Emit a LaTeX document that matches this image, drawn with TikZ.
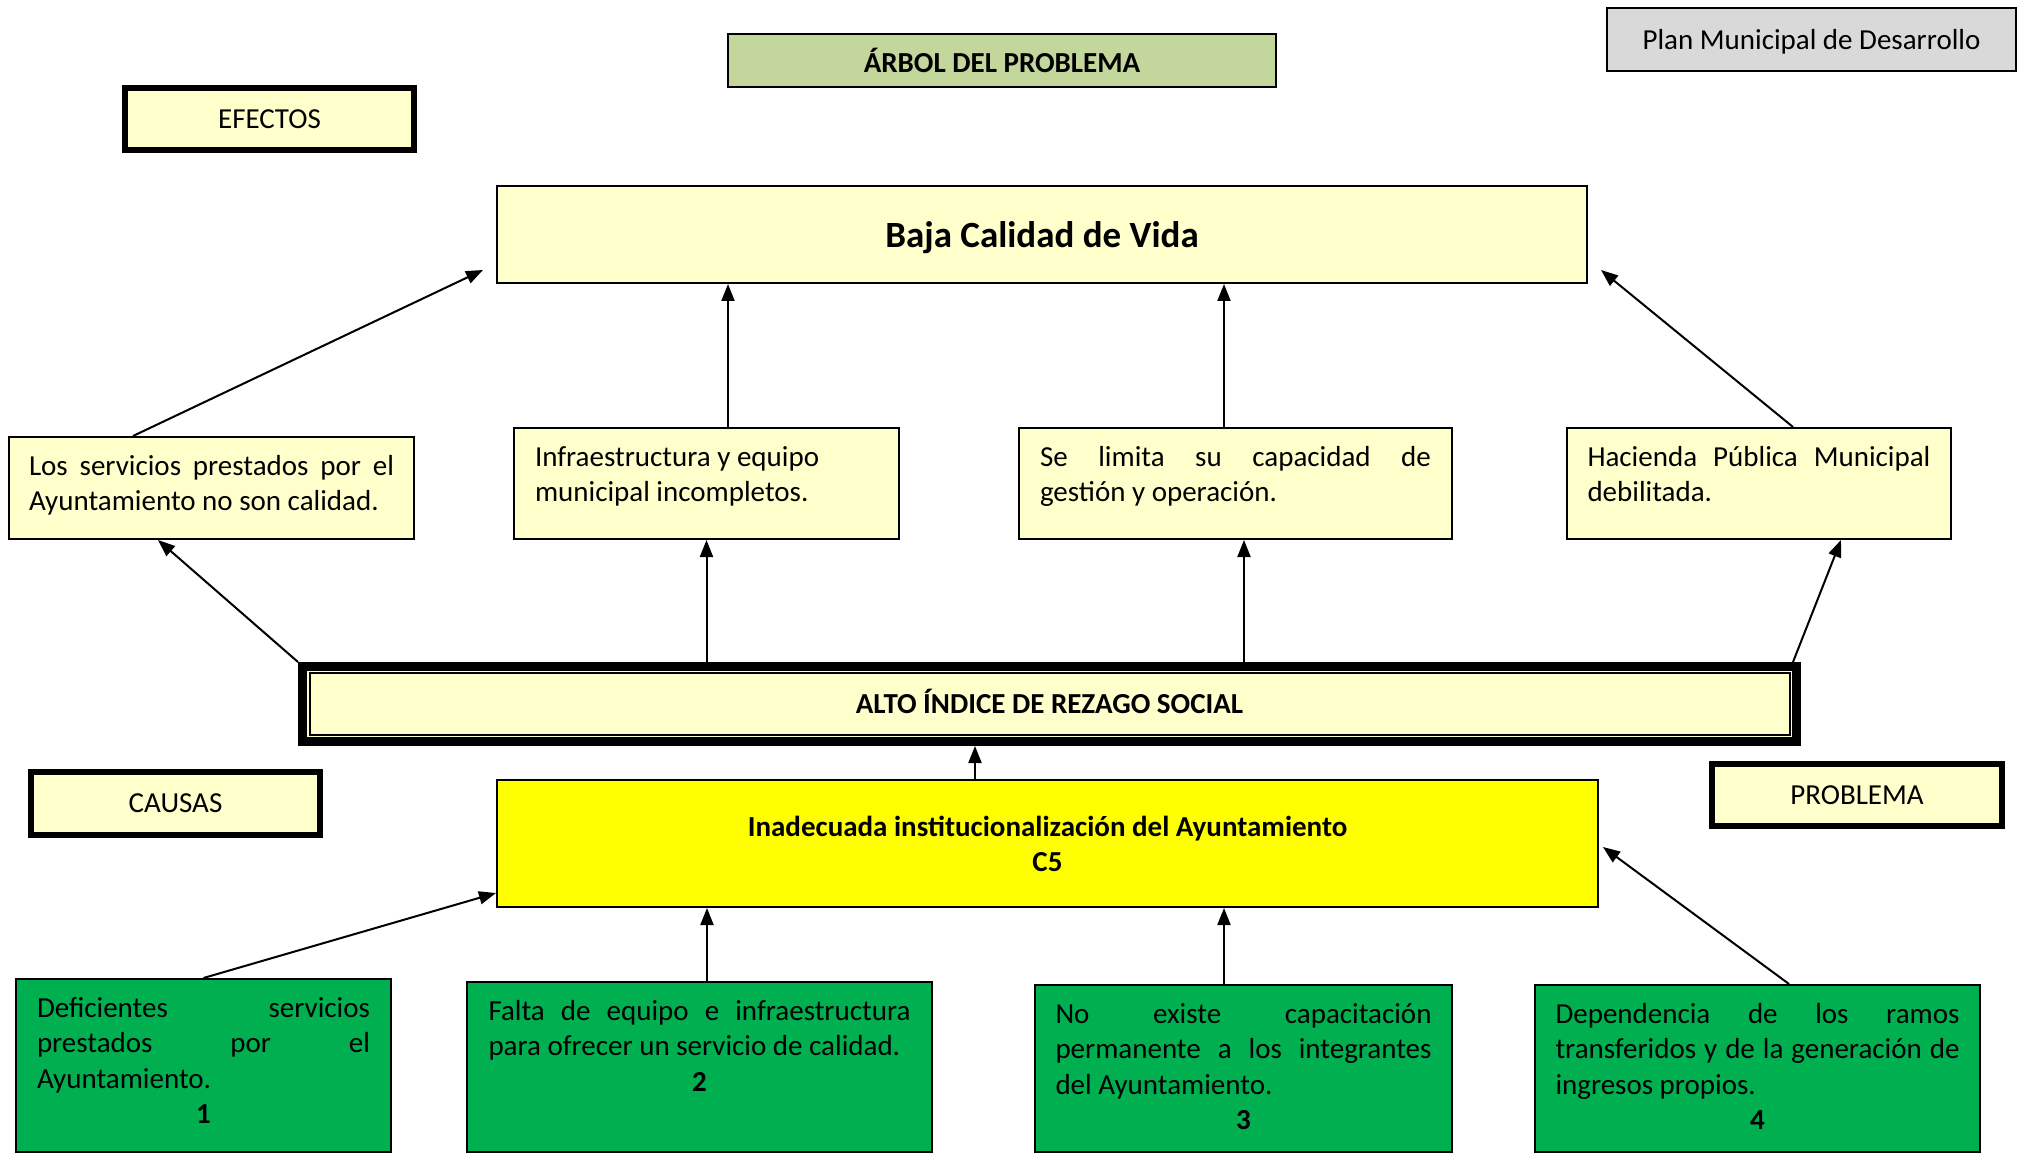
\documentclass[tikz,border=0pt]{standalone}
\usepackage{fontspec}
\setmainfont{Carlito}
\usetikzlibrary{arrows.meta,calc}
\definecolor{lyel}{HTML}{FFFFCC}
\definecolor{arbolgreen}{HTML}{C3D69B}
\definecolor{greyb}{HTML}{D9D9D9}
\definecolor{cgreen}{HTML}{00B050}
\definecolor{pureyel}{HTML}{FFFF00}
\newcommand\bodyf{\fontsize{14.5}{17.8}\selectfont}
\newcommand\bxtxt[3]{\parbox[c][#1][t]{#2}{\rule{0pt}{19pt}#3}}
\newcommand\jl[1]{\makebox[\linewidth][s]{#1}}
\begin{document}
\begin{tikzpicture}[x=0.5pt,y=-0.5pt,
  every node/.style={font=\bodyf},
  box/.style={draw=black, line width=1pt, fill=lyel, inner sep=0pt, rectangle},
  tag/.style={draw=black, line width=3pt, fill=lyel, minimum width=144.5pt, minimum height=31pt, inner sep=0pt},
  effbox/.style={draw=black, line width=1pt, fill=lyel, anchor=north west, inner ysep=0pt},
  causebox/.style={draw=black, line width=1pt, fill=cgreen, anchor=north west, inner ysep=0pt},
  arr/.style={-{Triangle[length=8.5pt,width=6.5pt]}, line width=1pt}]
\useasboundingbox (0,0) rectangle (2020,1155);

% headers
\node[box, fill=arbolgreen, minimum width=274pt, minimum height=26.5pt, font=\bodyf\bfseries] (arbol) at (1002,60.5) {ÁRBOL DEL PROBLEMA};
\node[box, fill=greyb, minimum width=204.5pt, minimum height=31.5pt, text depth=0pt] (plan) at (1811.5,39.5) {Plan Municipal de Desarrollo};
\node[tag] (efectos) at (269.5,119) {EFECTOS};
\node[tag, minimum height=31.5pt] (causas) at (175.5,803.5) {CAUSAS};
\node[tag, minimum width=145pt] (problema) at (1857,795) {PROBLEMA};

% main boxes
\node[box, minimum width=545pt, minimum height=48.5pt, text depth=0pt, font=\fontsize{18.5}{22}\selectfont\bfseries] (baja) at (1042,234.5) {Baja Calidad de Vida};
\node[box, line width=4.5pt, minimum width=747pt, minimum height=37.5pt, text height=9.3pt, text depth=0pt, font=\bodyf\bfseries] (alto) at (1049.5,704) {ALTO ÍNDICE DE REZAGO SOCIAL};
\draw[line width=1pt] ([xshift=6pt,yshift=-5.5pt]alto.north west) rectangle ([xshift=-5.5pt,yshift=5.5pt]alto.south east);
\node[box, fill=pureyel, minimum width=550.5pt, minimum height=63.5pt, align=center, font=\fontsize{14.5}{17.5}\selectfont\bfseries] (inad) at (1047.5,843.5) {Inadecuada institucionalización del Ayuntamiento\\C5};

% effects
\node[effbox, inner xsep=10pt] (e1) at (8,436) {\bxtxt{51pt}{182.5pt}{\jl{Los servicios prestados por el}\\Ayuntamiento no son calidad.}};
\node[effbox, inner xsep=10.5pt] (e2) at (513,427) {\bxtxt{55.5pt}{171.5pt}{Infraestructura y equipo\\municipal incompletos.}};
\node[effbox, inner xsep=10.5pt] (e3) at (1018,427) {\bxtxt{55.5pt}{195.5pt}{\jl{Se limita su capacidad de}\\gestión y operación.}};
\node[effbox, inner xsep=10.25pt] (e4) at (1566,427) {\bxtxt{55.5pt}{171.5pt}{\jl{Hacienda Pública Municipal}\\debilitada.}};

% causes
\node[causebox, inner xsep=10.5pt] (c1) at (15,978) {\bxtxt{86.5pt}{166.5pt}{\jl{Deficientes servicios}\\\jl{prestados por el}\\Ayuntamiento.\\\makebox[\linewidth]{\bfseries 1}}};
\node[causebox, inner xsep=10.75pt] (c2) at (466,981) {\bxtxt{85pt}{211pt}{\jl{Falta de equipo e infraestructura}\\para ofrecer un servicio de calidad.\\\makebox[\linewidth]{\bfseries 2}}};
\node[causebox, inner xsep=10.25pt] (c3) at (1034,984) {\bxtxt{83.5pt}{188pt}{\jl{No existe capacitación}\\\jl{permanente a los integrantes}\\del Ayuntamiento.\\\makebox[\linewidth]{\bfseries 3}}};
\node[causebox, inner xsep=10.25pt] (c4) at (1534,984) {\bxtxt{83.5pt}{202pt}{\jl{Dependencia de los ramos}\\\jl{transferidos y de la generación de}\\ingresos propios.\\\makebox[\linewidth]{\bfseries 4}}};

% effects -> baja
\draw[arr] ([xshift=62.5pt]e1.north west) -- ([xshift=-6.5pt,yshift=7pt]baja.south west);
\draw[arr] ([xshift=10.75pt]e2.north) -- ([xshift=10.75pt]e2.north |- baja.south);
\draw[arr] ([xshift=-5.75pt]e3.north) -- ([xshift=-5.75pt]e3.north |- baja.south);
\draw[arr] ([xshift=17pt]e4.north) -- ([xshift=6.5pt,yshift=7pt]baja.south east);

% alto -> effects
\draw[arr] (alto.north west) -- ([xshift=75pt]e1.south west);
\draw[arr] (e2.south |- alto.north) -- (e2.south);
\draw[arr] ([xshift=4.25pt]e3.south |- alto.north) -- ([xshift=4.25pt]e3.south);
\draw[arr] ([xshift=-4pt]alto.north east) -- ([xshift=41pt]e4.south);

% inad -> alto
\draw[arr] ([xshift=-36.25pt]inad.north) -- ([xshift=-36.25pt]inad.north |- alto.south);

% causes -> inad
\draw[arr] (c1.north) -- ([yshift=7.5pt]inad.south west);
\draw[arr] ([xshift=3.75pt]c2.north) -- ([xshift=3.75pt]c2.north |- inad.south);
\draw[arr] ([xshift=-9.75pt]c3.north) -- ([xshift=-9.75pt]c3.north |- inad.south);
\draw[arr] ([xshift=15.75pt]c4.north) -- ([xshift=2pt,yshift=30.5pt]inad.south east);
\end{tikzpicture}
\end{document}
